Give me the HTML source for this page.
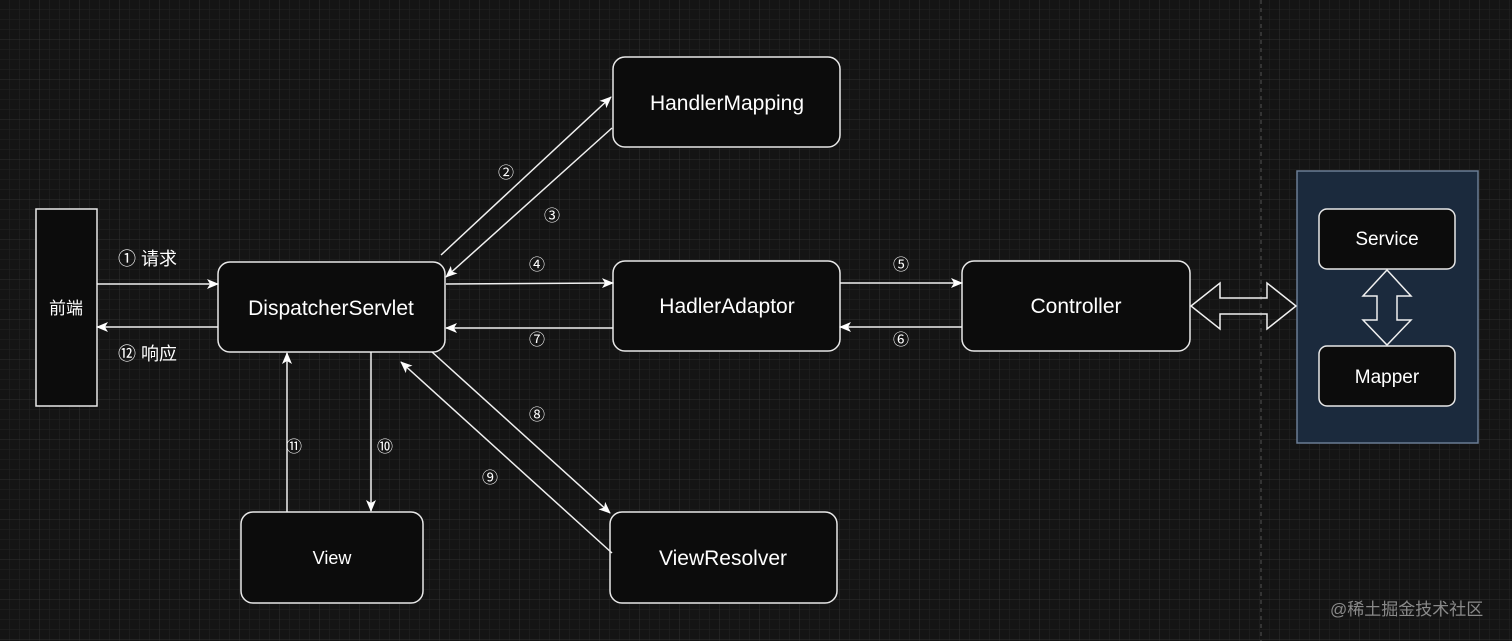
<!DOCTYPE html>
<html><head><meta charset="utf-8"><style>
html,body{margin:0;padding:0;background:#141414;}
svg{display:block;}
text{font-family:"Liberation Sans","Noto Sans CJK SC",sans-serif;fill:#fff;}
</style></head><body>
<svg width="1512" height="641" viewBox="0 0 1512 641" xmlns="http://www.w3.org/2000/svg">
<defs>
<pattern id="g1" width="10" height="10" patternUnits="userSpaceOnUse"><path d="M10 0V10M0 10H10" fill="none" stroke="#232323" stroke-width="1"/></pattern>
<pattern id="g2" width="40" height="40" patternUnits="userSpaceOnUse"><rect width="40" height="40" fill="url(#g1)"/><path d="M40 0V40M0 40H40" fill="none" stroke="#303030" stroke-width="1"/></pattern>
<marker id="a" markerWidth="12" markerHeight="10" refX="11" refY="5" orient="auto" markerUnits="userSpaceOnUse"><path d="M0 0L12 5L0 10L3 5Z" fill="#fff"/></marker>
</defs>
<rect width="1512" height="641" fill="#141414"/>
<rect width="1512" height="641" fill="url(#g2)"/>
<line x1="1261" y1="0" x2="1261" y2="641" stroke="#555" stroke-dasharray="4 4"/>
<g fill="#0c0c0c" stroke="#e8e8e8" stroke-width="1.5">
<rect x="36" y="209" width="61" height="197"/>
<rect x="218" y="262" width="227" height="90" rx="12"/>
<rect x="613" y="57" width="227" height="90" rx="12"/>
<rect x="613" y="261" width="227" height="90" rx="12"/>
<rect x="962" y="261" width="228" height="90" rx="12"/>
<rect x="241" y="512" width="182" height="91" rx="12"/>
<rect x="610" y="512" width="227" height="91" rx="12"/>
</g>
<rect x="1297" y="171" width="181" height="272" fill="#1b2a3d" stroke="#6b7d94" stroke-width="1.5"/>
<g fill="#0c0c0c" stroke="#e8e8e8" stroke-width="1.5">
<rect x="1319" y="209" width="136" height="60" rx="8"/>
<rect x="1319" y="346" width="136" height="60" rx="8"/>
</g>
<g fill="none" stroke="#f0f0f0" stroke-width="1.5">
<path d="M1191 306L1220 283V298H1267V283L1296 306L1267 329V314H1220V329Z"/>
<path d="M1387 270L1411 296H1397V320H1411L1387 345L1363 320H1377V296H1363Z"/>
</g>
<g stroke="#f0f0f0" stroke-width="1.5" marker-end="url(#a)">
<line x1="97" y1="284" x2="218" y2="284"/>
<line x1="218" y1="327" x2="97" y2="327"/>
<line x1="441" y1="255" x2="611" y2="97"/>
<line x1="612" y1="128" x2="446" y2="277"/>
<line x1="446" y1="284" x2="613" y2="283"/>
<line x1="613" y1="328" x2="446" y2="328"/>
<line x1="840" y1="283" x2="962" y2="283"/>
<line x1="962" y1="327" x2="840" y2="327"/>
<line x1="432" y1="352" x2="610" y2="513"/>
<line x1="612" y1="553" x2="401" y2="362"/>
<line x1="287" y1="512" x2="287" y2="353"/>
<line x1="371" y1="352" x2="371" y2="511"/>
</g>
<g font-size="21" text-anchor="middle">
<text x="727" y="110">HandlerMapping</text>
<text x="331" y="315">DispatcherServlet</text>
<text x="727" y="313">HadlerAdaptor</text>
<text x="1076" y="313">Controller</text>
<text x="723" y="565">ViewResolver</text>
</g>
<text x="332" y="564" font-size="18" text-anchor="middle">View</text>
<text x="1387" y="245" font-size="19" text-anchor="middle">Service</text>
<text x="1387" y="383" font-size="19" text-anchor="middle">Mapper</text>
<text x="66" y="314" font-size="17" text-anchor="middle">前端</text>
<text x="118" y="265" font-size="18">① 请求</text>
<text x="118" y="360" font-size="18">⑫ 响应</text>
<g font-size="16" text-anchor="middle">
<text x="506" y="178">②</text>
<text x="552" y="221">③</text>
<text x="537" y="270">④</text>
<text x="537" y="345">⑦</text>
<text x="901" y="270">⑤</text>
<text x="901" y="345">⑥</text>
<text x="537" y="420">⑧</text>
<text x="490" y="483">⑨</text>
<text x="294" y="452">⑪</text>
<text x="385" y="452">⑩</text>
</g>
<text x="1330" y="615" font-size="17" style="fill:#8a8a8a">@稀土掘金技术社区</text>
</svg>
</body></html>
